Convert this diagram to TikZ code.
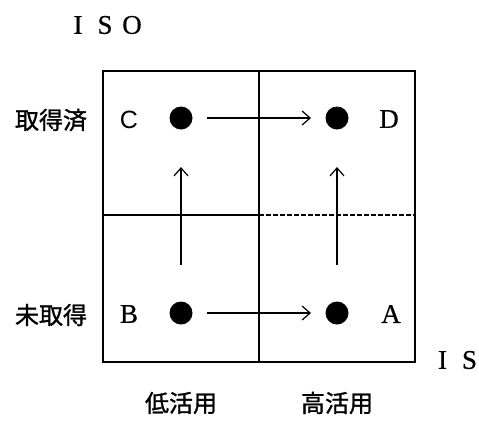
\documentclass[tikz,border=0pt]{standalone}
\usepackage{fontspec}
\setmainfont{Liberation Serif}
\setsansfont{Liberation Sans}
\newfontfamily\lat[FakeBold=0.6]{Liberation Serif}
\newfontfamily\jp[FakeBold=1.2]{Noto Sans CJK JP}
\usetikzlibrary{arrows.meta}
\tikzset{
  frame/.style={line width=1.8pt},
  dot/.style={circle,fill=black,inner sep=0pt,minimum size=23pt},
  flow/.style={line width=1.2pt,-{Straight Barb[length=8pt,width=14pt,line width=1.2pt]}},
  letter/.style={font=\lat\fontsize{27}{27}\selectfont,inner sep=0pt},
  jlab/.style={font=\jp\fontsize{24}{24}\selectfont,inner sep=0pt},
}
\newcommand{\spbox}[1]{\makebox[27pt]{#1}}
\begin{document}
\begin{tikzpicture}[x=1pt,y=-1pt]
\useasboundingbox (0,0) rectangle (479,424);
% frame
\draw[frame] (103,71) rectangle (415,362);
\draw[line width=2.6pt] (259,71) -- (259,362);
\draw[frame] (103,215) -- (259,215);
\draw[line width=1.6pt,dashed,dash pattern=on 5pt off 2pt] (259,215) -- (415,215);
% dots
\node[dot] (C) at (181,118) {};
\node[dot] (D) at (337,118) {};
\node[dot] (B) at (181,313) {};
\node[dot] (A) at (337,313) {};
% connectors
\coordinate (cs) at (207,118);
\coordinate (ce) at (311,118);
\coordinate (bs) at (207,313);
\coordinate (be) at (311,313);
\coordinate (ls) at (181,265);
\coordinate (le) at (181,167);
\coordinate (rs) at (337,265);
\coordinate (re) at (337,167);
\draw[flow] (cs) -- (ce);
\draw[flow] (bs) -- (be);
\draw[flow] (ls) -- (le);
\draw[flow] (rs) -- (re);
% letters
\node[letter,font=\sffamily\fontsize{25}{25}\selectfont] (lC) at (129,120) {C};
\node[letter] (lD) at (389,119) {D};
\node[letter] (lB) at (129,314) {B};
\node[letter] (lA) at (391,314) {A};
% axis labels
\node[letter] (iso) at (105,25) {\spbox{I}\spbox{S}\spbox{O}};
\node[letter] (is) at (456,360) {\spbox{I}\spbox{S}};
\node[jlab] (acq) at (51,120) {取得済};
\node[jlab] (nacq) at (51,315) {未取得};
\node[jlab] (low) at (181,403) {低活用};
\node[jlab] (high) at (337,403) {高活用};
\end{tikzpicture}
\end{document}
